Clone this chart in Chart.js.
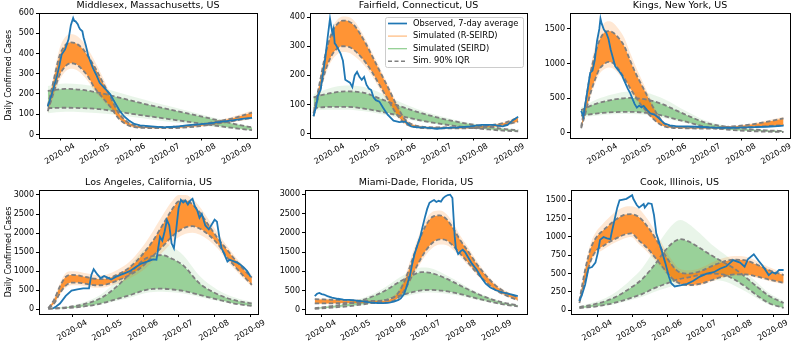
<!DOCTYPE html>
<html>
<head>
<meta charset="utf-8">
<script src="https://cdn.jsdelivr.net/npm/chart.js@4.4.1/dist/chart.umd.min.js"></script>
<style>
  html, body { margin: 0; padding: 0; background: #fff; }
  #wrap { position: relative; width: 794px; height: 343px; overflow: hidden; }
  #wrap canvas { position: absolute; }
</style>
</head>
<body>
<div id="wrap">
  <canvas id="c1" width="265" height="171" style="left:0px;top:0px"></canvas>
  <canvas id="c2" width="265" height="171" style="left:265px;top:0px"></canvas>
  <canvas id="c3" width="264" height="171" style="left:530px;top:0px"></canvas>
  <canvas id="c4" width="265" height="172" style="left:0px;top:171px"></canvas>
  <canvas id="c5" width="265" height="172" style="left:265px;top:171px"></canvas>
  <canvas id="c6" width="264" height="172" style="left:530px;top:171px"></canvas>
</div>
<script>
// x values are day of year 2020 (Jan 1 = 0)
const monthTicks = [91, 121, 152, 182, 213, 244];
const monthLabels = ['2020-04', '2020-05', '2020-06', '2020-07', '2020-08', '2020-09'];

// ---- Middlesex, Massachusetts
const mxObsDays = [80, 83, 85, 88, 90, 92, 95, 98, 100, 102, 103, 104, 106, 107, 108, 110, 111, 113, 115, 117, 119, 122, 125, 129, 134, 138, 142, 146, 150, 155, 160, 170, 180, 190, 200, 210, 220, 230, 240, 250, 257];
const mxObs = [138, 190, 230, 290, 340, 395, 420, 470, 540, 575, 560, 560, 545, 530, 520, 510, 480, 440, 390, 360, 330, 295, 255, 230, 200, 160, 120, 90, 70, 52, 45, 40, 35, 38, 45, 50, 55, 62, 70, 78, 82];
const mxOrDays = [80, 85, 90, 95, 100, 105, 110, 115, 120, 127, 134, 141, 148, 155, 165, 180, 195, 210, 225, 240, 257];
const mxOrHi = [150, 290, 420, 480, 495, 488, 462, 420, 370, 290, 205, 122, 72, 49, 42, 41, 44, 53, 68, 88, 118];
const mxOrQ95 = [140, 265, 385, 440, 455, 448, 425, 385, 340, 265, 187, 110, 66, 45, 38, 37, 40, 48, 62, 80, 108];
const mxOrQ5 = [115, 205, 290, 335, 352, 345, 320, 285, 235, 185, 138, 82, 50, 36, 32, 31, 33, 40, 52, 66, 82];
const mxOrLo = [105, 185, 265, 310, 325, 318, 295, 262, 218, 172, 128, 76, 46, 33, 29, 28, 30, 36, 47, 60, 75];
const mxGrDays = [80, 95, 110, 125, 140, 155, 170, 185, 200, 215, 230, 245, 257];
const mxGrHi = [240, 252, 247, 232, 210, 185, 162, 140, 118, 96, 74, 53, 38];
const mxGrQ95 = [215, 225, 220, 205, 185, 163, 143, 124, 105, 86, 67, 48, 35];
const mxGrQ5 = [130, 132, 130, 125, 113, 100, 88, 76, 64, 52, 40, 29, 21];
const mxGrLo = [105, 112, 110, 105, 96, 85, 74, 63, 53, 43, 33, 24, 17];
const mxYTicks = [0, 100, 200, 300, 400, 500, 600];

// ---- Fairfield, Connecticut
const ffObsDays = [77, 79, 81, 83, 85, 87, 89, 91, 92, 93, 94, 95, 96, 98, 100, 102, 104, 106, 108, 110, 112, 114, 116, 118, 120, 122, 124, 126, 128, 130, 133, 136, 140, 145, 150, 155, 160, 165, 170, 175, 182, 190, 200, 210, 220, 230, 238, 242, 246, 251];
const ffObs = [60, 90, 135, 150, 205, 260, 330, 395, 370, 345, 360, 310, 305, 290, 275, 250, 185, 180, 175, 160, 200, 212, 195, 185, 195, 168, 155, 150, 125, 115, 110, 90, 65, 45, 40, 42, 25, 22, 22, 20, 17, 20, 22, 25, 30, 30, 25, 30, 45, 58];
const ffOrDays = [77, 82, 87, 92, 97, 102, 107, 112, 117, 122, 127, 132, 137, 142, 148, 155, 165, 180, 195, 210, 225, 240, 251];
const ffOrHi = [75, 180, 285, 355, 390, 402, 400, 385, 355, 318, 278, 238, 195, 155, 105, 55, 30, 25, 25, 27, 31, 42, 60];
const ffOrQ95 = [70, 170, 270, 340, 375, 388, 385, 370, 340, 305, 265, 225, 185, 145, 95, 48, 27, 22, 22, 24, 28, 38, 55];
const ffOrQ5 = [60, 140, 215, 265, 292, 300, 298, 285, 265, 240, 210, 175, 140, 105, 65, 35, 22, 18, 18, 19, 22, 30, 42];
const ffOrLo = [55, 130, 200, 248, 272, 280, 278, 266, 248, 225, 196, 162, 128, 95, 58, 32, 20, 16, 16, 17, 20, 27, 38];
const ffGrDays = [77, 90, 105, 120, 135, 150, 165, 180, 195, 210, 225, 240, 251];
const ffGrHi = [135, 155, 165, 160, 138, 110, 85, 66, 50, 37, 27, 18, 13];
const ffGrQ95 = [125, 138, 145, 140, 118, 95, 75, 58, 44, 33, 24, 16, 12];
const ffGrQ5 = [88, 92, 92, 86, 75, 62, 48, 37, 28, 21, 15, 10, 8];
const ffGrLo = [80, 82, 82, 77, 67, 55, 43, 33, 25, 18, 13, 9, 7];
const ffYTicks = [0, 100, 200, 300, 400];

// ---- Kings, New York
const kgObsDays = [72, 74, 76, 78, 80, 82, 84, 86, 88, 89, 90, 92, 94, 96, 98, 100, 102, 105, 108, 110, 113, 115, 117, 119, 121, 123, 125, 127, 130, 133, 137, 140, 145, 150, 155, 165, 175, 185, 195, 205, 215, 225, 235, 245, 250];
const kgObs = [320, 240, 450, 660, 870, 900, 1050, 1330, 1500, 1650, 1580, 1490, 1450, 1360, 1200, 1080, 960, 900, 830, 750, 640, 580, 500, 420, 365, 395, 370, 390, 330, 280, 260, 220, 140, 110, 100, 95, 90, 80, 75, 75, 80, 85, 90, 100, 105];
const kgOrDays = [72, 76, 80, 84, 88, 92, 96, 100, 105, 110, 115, 120, 125, 130, 135, 140, 146, 152, 160, 175, 190, 205, 220, 235, 250];
const kgOrHi = [100, 500, 930, 1230, 1460, 1580, 1610, 1590, 1500, 1370, 1160, 960, 780, 600, 430, 270, 145, 108, 98, 90, 90, 106, 135, 180, 235];
const kgOrQ95 = [90, 450, 850, 1120, 1330, 1440, 1470, 1450, 1370, 1250, 1050, 860, 700, 540, 380, 240, 125, 95, 88, 80, 80, 95, 120, 160, 210];
const kgOrQ5 = [70, 300, 560, 760, 920, 990, 1025, 1010, 920, 790, 650, 520, 400, 300, 210, 140, 90, 75, 70, 65, 65, 72, 85, 100, 112];
const kgOrLo = [60, 270, 510, 700, 850, 915, 945, 930, 850, 730, 600, 480, 370, 275, 192, 128, 82, 68, 63, 58, 58, 64, 76, 90, 100];
const kgGrDays = [72, 85, 100, 115, 130, 142, 155, 165, 182, 200, 220, 235, 250];
const kgGrHi = [370, 480, 560, 600, 575, 510, 400, 310, 175, 105, 64, 44, 33];
const kgGrQ95 = [330, 420, 480, 505, 480, 425, 330, 256, 145, 90, 55, 38, 29];
const kgGrQ5 = [250, 280, 300, 305, 290, 256, 200, 159, 87, 50, 28, 19, 14];
const kgGrLo = [225, 250, 270, 275, 260, 228, 178, 140, 76, 44, 24, 16, 12];
const kgYTicks = [0, 500, 1000, 1500];

// ---- Los Angeles, California
const laObsDays = [74, 77, 80, 85, 90, 95, 100, 105, 107, 109, 112, 115, 118, 121, 124, 128, 132, 136, 140, 145, 150, 155, 160, 163, 166, 168, 170, 172, 174, 176, 178, 180, 182, 184, 186, 188, 190, 192, 194, 196, 198, 200, 202, 205, 208, 210, 213, 215, 217, 219, 221, 224, 226, 230, 234, 238, 241, 244];
const laObs = [20, 80, 150, 350, 490, 520, 550, 550, 900, 1050, 920, 820, 870, 830, 780, 850, 900, 950, 1000, 1100, 1200, 1250, 1310, 1300, 1900, 1800, 2040, 2340, 2200, 1730, 1600, 2100, 2650, 2870, 2800, 2850, 2750, 2850, 2900, 2700, 2600, 2400, 2500, 2200, 2100, 2200, 2350, 2300, 1900, 1600, 1470, 1250, 1300, 1250, 1200, 1100, 1000, 850];
const laOrDays = [70, 75, 80, 85, 90, 95, 100, 105, 110, 115, 120, 130, 140, 150, 160, 170, 176, 182, 188, 194, 200, 208, 216, 224, 232, 240, 245];
const laOrHi = [35, 300, 680, 950, 1000, 990, 960, 930, 900, 890, 910, 1040, 1250, 1600, 2050, 2550, 2820, 3000, 3000, 2900, 2700, 2350, 1980, 1650, 1330, 1060, 900];
const laOrQ95 = [30, 250, 600, 850, 900, 890, 860, 830, 800, 790, 800, 920, 1100, 1400, 1800, 2300, 2600, 2830, 2860, 2750, 2550, 2200, 1850, 1550, 1250, 980, 830];
const laOrQ5 = [25, 150, 420, 620, 700, 700, 680, 650, 630, 630, 650, 760, 900, 1100, 1400, 1700, 1900, 2050, 2150, 2180, 2120, 1950, 1700, 1350, 1070, 800, 640];
const laOrLo = [20, 120, 380, 560, 630, 630, 610, 585, 565, 565, 585, 680, 810, 990, 1260, 1550, 1740, 1890, 1980, 2010, 1960, 1810, 1580, 1260, 990, 740, 590];
const laGrDays = [70, 85, 100, 115, 129, 143, 152, 160, 168, 176, 186, 200, 215, 229, 245];
const laGrHi = [20, 70, 180, 380, 760, 1250, 1550, 1700, 1750, 1650, 1420, 880, 520, 320, 195];
const laGrQ95 = [15, 50, 130, 290, 600, 1030, 1300, 1400, 1420, 1330, 1150, 680, 400, 245, 150];
const laGrQ5 = [10, 30, 70, 150, 270, 400, 490, 535, 540, 520, 480, 376, 260, 157, 85];
const laGrLo = [8, 22, 55, 120, 220, 330, 410, 450, 460, 445, 410, 320, 220, 135, 72];
const laYTicks = [0, 500, 1000, 1500, 2000, 2500, 3000];

// ---- Miami-Dade, Florida
const miObsDays = [85, 87, 89, 91, 93, 96, 100, 105, 110, 115, 120, 125, 130, 135, 140, 145, 150, 154, 158, 160, 163, 165, 168, 170, 172, 175, 177, 179, 181, 183, 185, 187, 189, 191, 193, 195, 197, 199, 201, 203, 205, 206, 207, 208, 210, 212, 214, 216, 218, 222, 226, 230, 234, 238, 243, 248, 252, 257, 262];
const miObs = [360, 420, 440, 410, 400, 360, 320, 290, 270, 260, 250, 230, 210, 190, 180, 175, 190, 215, 260, 300, 420, 600, 900, 1200, 1450, 1730, 1900, 2160, 2400, 2620, 2780, 2820, 2850, 2800, 2830, 2810, 2900, 2950, 2980, 2990, 2900, 2400, 1900, 1600, 1450, 1520, 1560, 1500, 1400, 1200, 1050, 850, 680, 580, 510, 460, 430, 400, 360];
const miOrDays = [85, 95, 105, 115, 125, 135, 145, 152, 158, 164, 170, 176, 182, 188, 194, 200, 206, 212, 218, 226, 234, 242, 250, 262];
const miOrHi = [300, 290, 280, 270, 260, 255, 265, 340, 520, 900, 1450, 1950, 2350, 2550, 2580, 2480, 2230, 1920, 1650, 1280, 960, 700, 520, 360];
const miOrQ95 = [280, 270, 260, 250, 240, 235, 240, 300, 450, 800, 1300, 1800, 2200, 2420, 2450, 2350, 2100, 1800, 1550, 1200, 900, 650, 480, 330];
const miOrQ5 = [170, 170, 175, 180, 180, 180, 180, 220, 320, 550, 900, 1250, 1550, 1750, 1830, 1800, 1650, 1450, 1250, 970, 730, 530, 400, 250];
const miOrLo = [150, 155, 160, 165, 168, 168, 170, 205, 290, 500, 820, 1150, 1430, 1620, 1700, 1680, 1550, 1370, 1180, 920, 690, 500, 375, 230];
const miGrDays = [85, 100, 115, 130, 145, 160, 170, 178, 186, 196, 206, 216, 226, 236, 248, 262];
const miGrHi = [60, 120, 200, 340, 560, 860, 1020, 1100, 1080, 960, 800, 630, 470, 340, 220, 135];
const miGrQ95 = [50, 100, 170, 290, 480, 750, 900, 980, 960, 860, 720, 570, 430, 310, 200, 120];
const miGrQ5 = [30, 60, 100, 160, 250, 380, 460, 510, 520, 500, 450, 380, 300, 230, 150, 95];
const miGrLo = [25, 50, 85, 135, 210, 320, 395, 440, 450, 435, 395, 335, 265, 200, 135, 85];
const miYTicks = [0, 500, 1000, 1500, 2000, 2500, 3000];

// ---- Cook, Illinois
const ckObsDays = [75, 77, 80, 83, 86, 89, 91, 93, 96, 99, 102, 103, 105, 108, 110, 113, 116, 121, 122, 125, 127, 131, 132, 135, 138, 140, 142, 147, 150, 153, 155, 158, 163, 169, 174, 180, 186, 192, 198, 203, 209, 215, 219, 222, 227, 231, 235, 240, 243, 246, 249, 253];
const ckObs = [130, 200, 350, 575, 590, 650, 780, 960, 1000, 980, 970, 1050, 1190, 1400, 1500, 1510, 1520, 1570, 1520, 1435, 1400, 1450, 1400, 1460, 1450, 1300, 1050, 800, 640, 460, 370, 325, 340, 360, 400, 460, 500, 520, 570, 600, 685, 650, 595, 700, 765, 680, 600, 480, 520, 500, 550, 550];
const ckOrDays = [75, 80, 85, 90, 95, 100, 107, 114, 120, 127, 134, 141, 148, 155, 162, 170, 180, 190, 200, 210, 220, 230, 240, 253];
const ckOrHi = [140, 600, 920, 1080, 1170, 1250, 1350, 1410, 1420, 1380, 1250, 1080, 880, 700, 570, 545, 575, 650, 710, 740, 730, 670, 590, 510];
const ckOrQ95 = [130, 550, 850, 1000, 1080, 1150, 1240, 1300, 1310, 1270, 1150, 990, 800, 630, 520, 500, 530, 600, 660, 690, 680, 620, 550, 480];
const ckOrQ5 = [100, 400, 680, 820, 870, 920, 980, 1030, 1050, 950, 850, 720, 580, 450, 370, 345, 360, 410, 460, 490, 490, 460, 420, 375];
const ckOrLo = [90, 370, 640, 770, 820, 870, 930, 980, 1000, 900, 800, 680, 550, 425, 350, 328, 340, 390, 440, 470, 470, 440, 400, 355];
const ckGrDays = [75, 90, 105, 120, 130, 140, 150, 157, 163, 170, 180, 190, 200, 210, 220, 230, 240, 253];
const ckGrHi = [60, 120, 230, 420, 580, 820, 1050, 1180, 1230, 1180, 1050, 900, 780, 660, 520, 380, 240, 130];
const ckGrQ95 = [45, 90, 170, 310, 430, 610, 820, 930, 970, 940, 850, 750, 660, 570, 450, 320, 200, 100];
const ckGrQ5 = [30, 55, 100, 170, 225, 300, 360, 400, 430, 450, 480, 500, 490, 420, 320, 200, 100, 32];
const ckGrLo = [25, 45, 80, 140, 185, 250, 300, 335, 360, 375, 400, 410, 400, 340, 255, 160, 80, 25];
const ckYTicks = [0, 250, 500, 750, 1000, 1250, 1500];

const FONT = 'DejaVu Sans';
const ORANGE = '255,127,14';
const GREEN = '44,160,44';

const legendItems = [
  { label: 'Observed, 7-day average', color: '#1f77b4', width: 1.7, dash: [] },
  { label: 'Simulated (R-SEIRD)', color: 'rgba(255,127,14,0.55)', width: 1.2, dash: [] },
  { label: 'Simulated (SEIRD)', color: 'rgba(44,160,44,0.55)', width: 1.2, dash: [] },
  { label: 'Sim. 90% IQR', color: '#7f7f7f', width: 1.4, dash: [4, 2.5] }
];

const panels = [
  { id: 'c1', title: 'Middlesex, Massachusetts, US', obsDays: mxObsDays, obs: mxObs,
    orDays: mxOrDays, orHi: mxOrHi, orQ95: mxOrQ95, orQ5: mxOrQ5, orLo: mxOrLo,
    grDays: mxGrDays, grHi: mxGrHi, grQ95: mxGrQ95, grQ5: mxGrQ5, grLo: mxGrLo,
    xMin: 72.4, xMax: 261.3, yMin: -15, yMax: 600, yTicks: mxYTicks,
    yWidth: 39, padRight: 8, padTop: 13, xHeight: 33.5, yTitle: true },
  { id: 'c2', title: 'Fairfield, Connecticut, US', obsDays: ffObsDays, obs: ffObs,
    orDays: ffOrDays, orHi: ffOrHi, orQ95: ffOrQ95, orQ5: ffOrQ5, orLo: ffOrLo,
    grDays: ffGrDays, grHi: ffGrHi, grQ95: ffGrQ95, grQ5: ffGrQ5, grLo: ffGrLo,
    xMin: 74, xMax: 258.5, yMin: -13, yMax: 414, yTicks: ffYTicks,
    yWidth: 45, padRight: 3, padTop: 13, xHeight: 33.5, legend: true },
  { id: 'c3', title: 'Kings, New York, US', obsDays: kgObsDays, obs: kgObs,
    orDays: kgOrDays, orHi: kgOrHi, orQ95: kgOrQ95, orQ5: kgOrQ5, orLo: kgOrLo,
    grDays: kgGrDays, grHi: kgGrHi, grQ95: kgGrQ95, grQ5: kgGrQ5, grLo: kgGrLo,
    xMin: 62.2, xMax: 255.7, yMin: -65, yMax: 1730, yTicks: kgYTicks,
    yWidth: 40, padRight: 4, padTop: 13, xHeight: 33.5 },
  { id: 'c4', title: 'Los Angeles, California, US', obsDays: laObsDays, obs: laObs,
    orDays: laOrDays, orHi: laOrHi, orQ95: laOrQ95, orQ5: laOrQ5, orLo: laOrLo,
    grDays: laGrDays, grHi: laGrHi, grQ95: laGrQ95, grQ5: laGrQ5, grLo: laGrLo,
    xMin: 62, xMax: 250.3, yMin: -125, yMax: 3130, yTicks: laYTicks,
    yWidth: 39, padRight: 7, padTop: 19, xHeight: 29, yTitle: true },
  { id: 'c5', title: 'Miami-Dade, Florida, US', obsDays: miObsDays, obs: miObs,
    orDays: miOrDays, orHi: miOrHi, orQ95: miOrQ95, orQ5: miOrQ5, orLo: miOrLo,
    grDays: miGrDays, grHi: miGrHi, grQ95: miGrQ95, grQ5: miGrQ5, grLo: miGrLo,
    xMin: 76.5, xMax: 270, yMin: -105, yMax: 3110, yTicks: miYTicks,
    yWidth: 40, padRight: 3, padTop: 19, xHeight: 29 },
  { id: 'c6', title: 'Cook, Illinois, US', obsDays: ckObsDays, obs: ckObs,
    orDays: ckOrDays, orHi: ckOrHi, orQ95: ckOrQ95, orQ5: ckOrQ5, orLo: ckOrLo,
    grDays: ckGrDays, grHi: ckGrHi, grQ95: ckGrQ95, grQ5: ckGrQ5, grLo: ckGrLo,
    xMin: 67.7, xMax: 256.8, yMin: -50, yMax: 1640, yTicks: ckYTicks,
    yWidth: 41, padRight: 6, padTop: 19, xHeight: 29 }
];

const pts = (days, vals) => days.map((d, i) => ({ x: d, y: vals[i] }));

function buildSets(p) {
  const base = { pointRadius: 0, borderWidth: 1, fill: false, cubicInterpolationMode: 'monotone', borderColor: 'rgba(0,0,0,0)' };
  const sets = [];
  // observed on top
  sets.push({ ...base, data: pts(p.obsDays, p.obs), borderColor: '#1f77b4', borderWidth: 1.8, cubicInterpolationMode: 'default', tension: 0, order: 0 });
  // dashed quantile lines
  [[p.orDays, p.orQ95], [p.orDays, p.orQ5], [p.grDays, p.grQ95], [p.grDays, p.grQ5]].forEach(([d, v]) => {
    sets.push({ ...base, data: pts(d, v), borderColor: '#7f7f7f', borderWidth: 1.8, borderDash: [4.5, 2.5], order: 1 });
  });
  // filled ensemble bands
  const band = (d, hi, lo, color, order) => {
    const i = sets.length;
    sets.push({ ...base, data: pts(d, hi), order });
    sets.push({ ...base, data: pts(d, lo), backgroundColor: color, fill: i, order });
  };
  band(p.orDays, p.orQ95, p.orQ5, `rgba(${ORANGE},0.8)`, 2);
  band(p.orDays, p.orHi, p.orLo, `rgba(${ORANGE},0.18)`, 3);
  band(p.grDays, p.grQ95, p.grQ5, `rgba(${GREEN},0.42)`, 4);
  band(p.grDays, p.grHi, p.grLo, `rgba(${GREEN},0.1)`, 5);
  return sets;
}

const framePlugin = {
  id: 'frame',
  afterDraw(chart) {
    const { ctx, chartArea: a } = chart;
    ctx.save();
    ctx.strokeStyle = '#000';
    ctx.lineWidth = 1;
    ctx.strokeRect(Math.round(a.left) + 0.5, Math.round(a.top) + 0.5, Math.round(a.right - a.left), Math.round(a.bottom - a.top));
    ctx.restore();
  }
};

const titlePlugin = {
  id: 'panelTitle',
  afterDraw(chart, args, opts) {
    const { ctx, chartArea: a } = chart;
    ctx.save();
    ctx.font = `9.5px "${FONT}"`;
    ctx.fillStyle = '#000';
    ctx.textAlign = 'center';
    ctx.textBaseline = 'middle';
    ctx.fillText(opts.text, (a.left + a.right) / 2, a.top - 7.5);
    ctx.restore();
  }
};

const boxLegendPlugin = {
  id: 'boxLegend',
  afterDraw(chart, args, opts) {
    if (!opts.show) return;
    const { ctx, chartArea: a } = chart;
    const w = 138, h = 50;
    const x0 = a.right - 4 - w, y0 = a.top + 4;
    ctx.save();
    ctx.fillStyle = 'rgba(255,255,255,0.8)';
    ctx.strokeStyle = '#cccccc';
    ctx.lineWidth = 1;
    ctx.beginPath();
    ctx.roundRect(x0 + 0.5, y0 + 0.5, w, h, 2);
    ctx.fill();
    ctx.stroke();
    ctx.font = `8.3px "${FONT}"`;
    ctx.textBaseline = 'middle';
    ctx.textAlign = 'left';
    legendItems.forEach((it, i) => {
      const y = y0 + 6.5 + i * 12.6;
      ctx.strokeStyle = it.color;
      ctx.lineWidth = it.width;
      ctx.setLineDash(it.dash);
      ctx.beginPath();
      ctx.moveTo(x0 + 3, y);
      ctx.lineTo(x0 + 22, y);
      ctx.stroke();
      ctx.setLineDash([]);
      ctx.fillStyle = '#000';
      ctx.fillText(it.label, x0 + 28, y);
    });
    ctx.restore();
  }
};

panels.forEach(p => {
  new Chart(document.getElementById(p.id), {
    type: 'line',
    data: { datasets: buildSets(p) },
    plugins: [framePlugin, titlePlugin, boxLegendPlugin],
    options: {
      responsive: false,
      animation: false,
      devicePixelRatio: 1,
      layout: { padding: { top: p.padTop, right: p.padRight, left: 0, bottom: 0 } },
      plugins: {
        legend: { display: false },
        tooltip: { enabled: false },
        panelTitle: { text: p.title },
        boxLegend: { show: !!p.legend }
      },
      scales: {
        x: {
          type: 'linear', min: p.xMin, max: p.xMax,
          afterBuildTicks: s => { s.ticks = monthTicks.map(v => ({ value: v })); },
          afterFit: s => { s.height = p.xHeight; },
          border: { display: false },
          grid: { drawOnChartArea: false, drawTicks: true, tickLength: 3, color: '#000' },
          ticks: {
            autoSkip: false, minRotation: 30, maxRotation: 30, labelOffset: 14, padding: 1,
            color: '#000', font: { family: FONT, size: 8 },
            callback: (v, i) => monthLabels[i]
          }
        },
        y: {
          type: 'linear', min: p.yMin, max: p.yMax,
          afterBuildTicks: s => { s.ticks = p.yTicks.map(v => ({ value: v })); },
          afterFit: s => { s.width = p.yWidth; },
          border: { display: false },
          grid: { drawOnChartArea: false, drawTicks: true, tickLength: 3, color: '#000' },
          ticks: { padding: 2, color: '#000', font: { family: FONT, size: 8 }, callback: v => String(v) },
          title: { display: !!p.yTitle, text: 'Daily Confirmed Cases', color: '#000',
            font: { family: FONT, size: 8 }, padding: { top: 4, bottom: 0 } }
        }
      }
    }
  });
});
</script>
</body>
</html>
